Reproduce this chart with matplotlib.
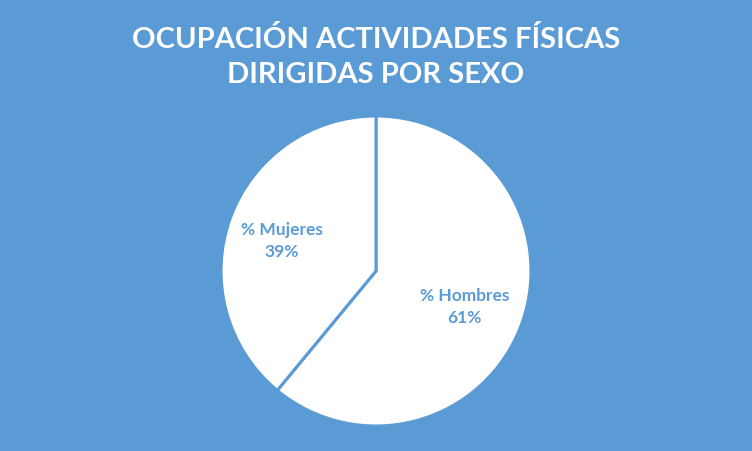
import matplotlib.pyplot as plt

categorias = ['% Hombres', '% Mujeres']
valores = [61, 39]
titulo = 'OCUPACIÓN ACTIVIDADES FÍSICAS\nDIRIGIDAS POR SEXO'

azul = '#5B9BD5'
plt.rcParams['font.family'] = ['Lato', 'DejaVu Sans']

fig = plt.figure(figsize=(7.52, 4.52), dpi=100, facecolor=azul)
r = 155
ax = fig.add_axes([(376 - r) / 752, (180 - r) / 452, 2 * r / 752, 2 * r / 452])
ax.set_facecolor(azul)

wedges, texts = ax.pie(
    valores, startangle=90, counterclock=False,
    colors=['white', 'white'],
    wedgeprops=dict(edgecolor=azul, linewidth=2.2),
)
ax.set_xlim(-1, 1)
ax.set_ylim(-1, 1)
ax.set_aspect('equal')

# etiquetas dentro de cada sector
posiciones = [(0.57, -0.225), (-0.61, 0.2)]
for cat, val, (x, y) in zip(categorias, valores, posiciones):
    ax.text(x, y, f'{cat}\n{val}%', ha='center', va='center',
            fontsize=12.5, fontweight='bold', color=azul, linespacing=1.5)

fig.text(0.5, 1 - 57 / 452, titulo, ha='center', va='center', color='white',
         fontsize=21, fontweight='bold', linespacing=1.4)

fig.savefig('out.png', dpi=100, facecolor=azul)
